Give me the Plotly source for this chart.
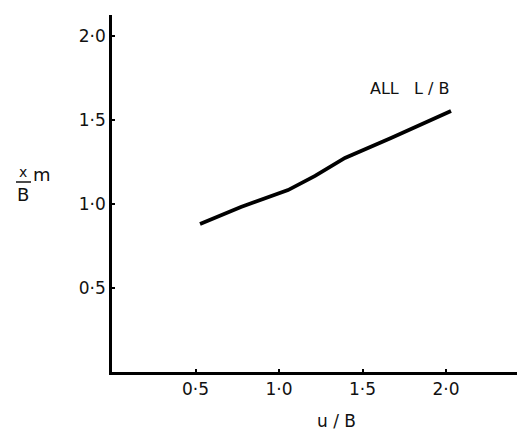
import plotly.graph_objects as go

# Data
u_over_b = [0.527, 0.772, 1.054, 1.216, 1.395, 1.671, 2.030]
xm_over_b = [0.881, 0.982, 1.083, 1.167, 1.274, 1.393, 1.554]

x_tick_vals = [0.5, 1.0, 1.5, 2.0]
x_tick_text = ["0·5", "1·0", "1·5", "2·0"]
y_tick_vals = [0.5, 1.0, 1.5, 2.0]
y_tick_text = ["0·5", "1·0", "1·5", "2·0"]

curve_label = "ALL   L / B"
x_title = "u / B"

FONT = "DejaVu Sans"
W, H = 525, 431
L, R, T, B = 104, 0, 7, 67
PW, PH = W - L - R, H - T - B


def px(xp):
    return (xp - L) / PW


def py(yp):
    return (H - B - yp) / PH


fig = go.Figure()
fig.add_trace(go.Scatter(
    x=u_over_b, y=xm_over_b, mode="lines",
    line=dict(color="black", width=3.8),
    showlegend=False, hoverinfo="skip",
))

fig.update_layout(
    width=W, height=H,
    margin=dict(l=L, r=R, t=T, b=B),
    paper_bgcolor="white", plot_bgcolor="white",
    font=dict(family=FONT, color="black", size=16),
    xaxis=dict(
        range=[0, PW / 167], showgrid=False, zeroline=False,
        showline=True, linecolor="black", linewidth=2.5,
        tickmode="array", tickvals=x_tick_vals, ticktext=x_tick_text,
        ticks="inside", ticklen=3, tickwidth=1.5, tickcolor="black",
        tickfont=dict(size=17, family=FONT, color="#111"),
    ),
    yaxis=dict(
        range=[0, PH / 168], showgrid=False, zeroline=False,
        showline=True, linecolor="black", linewidth=2.5,
        tickmode="array", tickvals=y_tick_vals, ticktext=y_tick_text,
        ticks="inside", ticklen=3, tickwidth=1.5, tickcolor="black",
        tickfont=dict(size=17, family=FONT, color="#111"),
    ),
)

annos = [
    dict(text=curve_label, x=px(401), y=py(80), font=dict(size=16)),
    dict(text=x_title, x=px(328), y=py(413), font=dict(size=17)),
    dict(text="x", x=px(15), y=py(164), font=dict(size=14)),
    dict(text="B", x=px(15), y=py(186), font=dict(size=18)),
    dict(text="m", x=px(34), y=py(166), font=dict(size=18)),
]
for a in annos:
    fig.add_annotation(xref="paper", yref="paper", showarrow=False,
                       xanchor="center", yanchor="middle",
                       font_family=FONT, font_color="#111", **a)

fig.add_shape(type="line", xref="paper", yref="paper",
              x0=px(8), x1=px(23), y0=py(174), y1=py(174),
              line=dict(color="#111", width=1.5))

fig.write_html("out.html")
